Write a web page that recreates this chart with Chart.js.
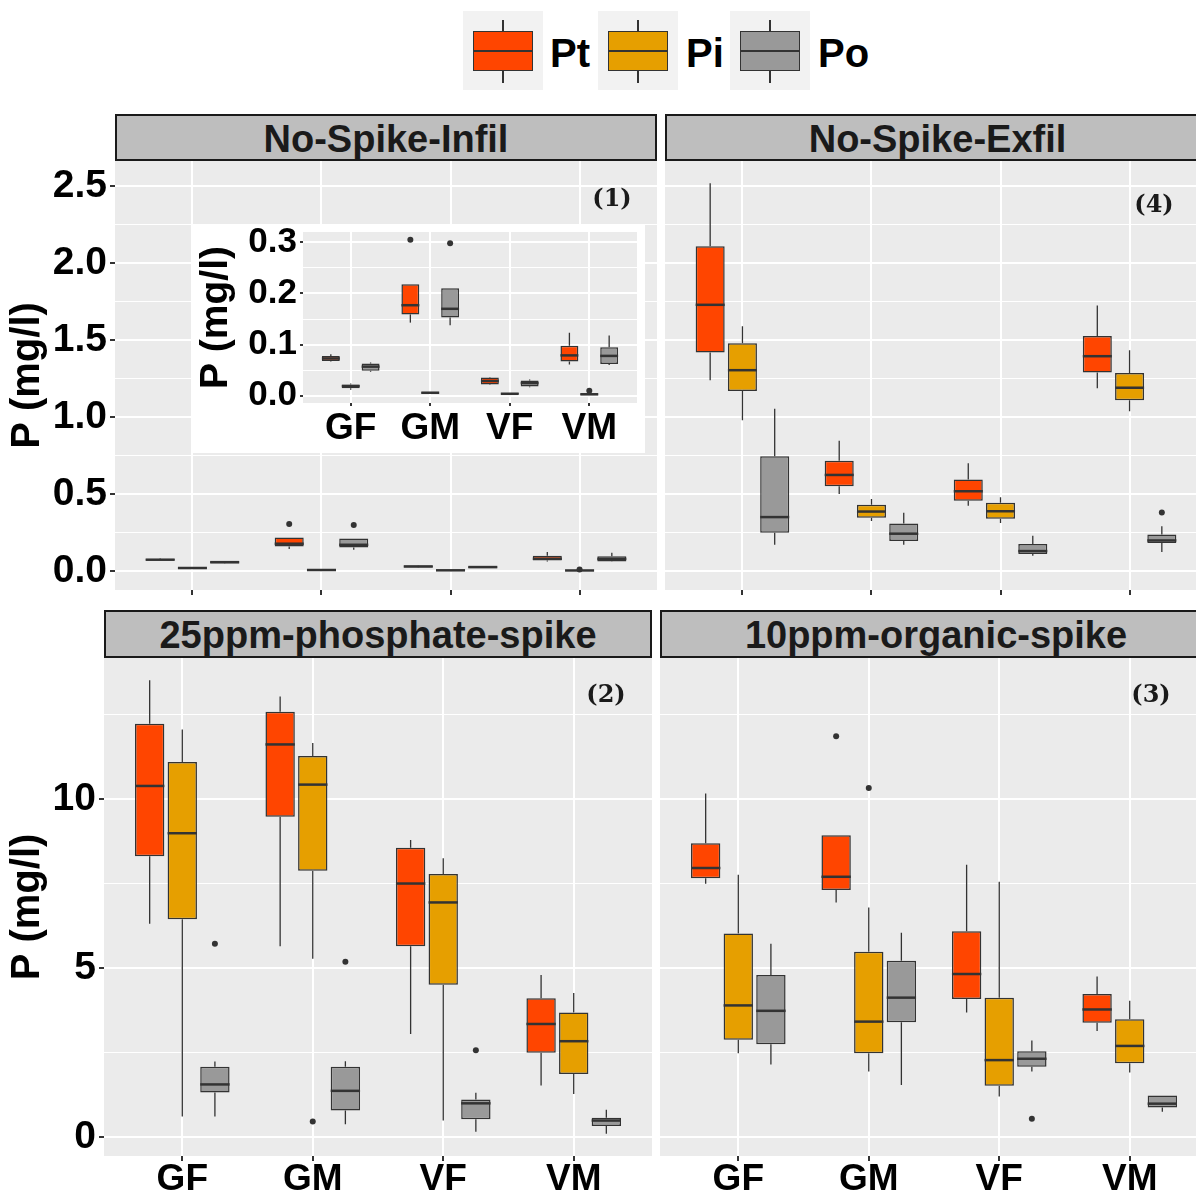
<!DOCTYPE html>
<html>
<head>
<meta charset="utf-8">
<script src="https://cdn.jsdelivr.net/npm/chart.js@4.4.0/dist/chart.umd.min.js"></script>
<style>
  body { margin: 0; background: #fff; overflow: hidden; }
  #fig { position: relative; width: 1196px; height: 1194px; overflow: hidden; font-family: "Liberation Sans", Arial, sans-serif; }
  canvas { position: absolute; }
  .strip { position: absolute; box-sizing: border-box; background: #bebebe; border: 2px solid #1a1a1a; color: #1a1a1a;
           font-weight: bold; font-size: 38px; text-align: center; line-height: 46px; }
  .tag { position: absolute; font-family: "DejaVu Serif", serif; font-weight: bold; font-size: 24px; color: #1a1a1a;
         transform: translate(-50%, -50%); }
  .key { position: absolute; top: 11px; width: 80px; height: 79px; background: #f2f2f2; }
  .key .wh { position: absolute; left: 39px; top: 9px; width: 1.5px; height: 63px; background: #333; }
  .key .bx { position: absolute; left: 10px; top: 20px; width: 60px; height: 40px; box-sizing: border-box; border: 1.5px solid #333; }
  .key .md { position: absolute; left: 10px; top: 39px; width: 60px; height: 2px; background: #333; }
  .lab { position: absolute; top: 31px; font-weight: bold; font-size: 40px; line-height: 44px; color: #000; }
</style>
</head>
<body>
<div id="fig">
  <div class="key" style="left:463px"><div class="wh"></div><div class="bx" style="background:#FF4500"></div><div class="md"></div></div>
  <div class="lab" style="left:550px">Pt</div>
  <div class="key" style="left:598px"><div class="wh"></div><div class="bx" style="background:#E69F00"></div><div class="md"></div></div>
  <div class="lab" style="left:686px">Pi</div>
  <div class="key" style="left:730px"><div class="wh"></div><div class="bx" style="background:#999999"></div><div class="md"></div></div>
  <div class="lab" style="left:818px">Po</div>

  <div class="strip" style="left:115px;top:114px;width:542px;height:47px">No-Spike-Infil</div>
  <div class="strip" style="left:665px;top:114px;width:545px;height:47px">No-Spike-Exfil</div>
  <div class="strip" style="left:104px;top:610px;width:548px;height:48px">25ppm-phosphate-spike</div>
  <div class="strip" style="left:660px;top:610px;width:552px;height:48px">10ppm-organic-spike</div>

  <canvas id="infil" style="left:0;top:161px" width="657" height="449"></canvas>
  <canvas id="exfil" style="left:665px;top:161px" width="542" height="449"></canvas>
  <canvas id="phos" style="left:0;top:658px" width="652" height="536"></canvas>
  <canvas id="org" style="left:660px;top:658px" width="548" height="536"></canvas>
  <canvas id="inset" style="left:192px;top:224px" width="453" height="229"></canvas>

  <div class="tag" style="left:612px;top:197px">(1)</div>
  <div class="tag" style="left:1154px;top:203px">(4)</div>
  <div class="tag" style="left:606px;top:693px">(2)</div>
  <div class="tag" style="left:1151px;top:693px">(3)</div>
</div>
<script>
const CATEGORIES = ["GF", "GM", "VF", "VM"];
const SERIES = ["Pt", "Pi", "Po"];
const COLORS = ["#FF4500", "#E69F00", "#999999"];

// each row: [min, q1, median, q3, max] for GF, GM, VF, VM
const INFIL_PT = [[0.067, 0.068, 0.073, 0.078, 0.081], [0.143, 0.159, 0.177, 0.218, 0.218], [0.021, 0.022, 0.029, 0.036, 0.037], [0.061, 0.067, 0.079, 0.098, 0.123]];
const INFIL_PI = [[0.012, 0.015, 0.019, 0.022, 0.024], [0.004, 0.004, 0.006, 0.008, 0.008], [0.002, 0.003, 0.004, 0.006, 0.006], [0.001, 0.001, 0.003, 0.005, 0.006]];
const INFIL_PO = [[0.047, 0.049, 0.057, 0.063, 0.065], [0.138, 0.153, 0.170, 0.210, 0.210], [0.017, 0.018, 0.025, 0.030, 0.032], [0.060, 0.062, 0.078, 0.095, 0.118]];
const INFIL_OUT = [[0, 1, 0.305], [2, 1, 0.298], [1, 3, 0.010]]; // [series, category, value]

const EXFIL_PT = [[1.24, 1.42, 1.73, 2.11, 2.52], [0.50, 0.55, 0.624, 0.716, 0.846], [0.423, 0.457, 0.518, 0.595, 0.70], [1.187, 1.29, 1.396, 1.527, 1.726]];
const EXFIL_PI = [[0.98, 1.17, 1.305, 1.48, 1.59], [0.324, 0.345, 0.386, 0.431, 0.468], [0.311, 0.339, 0.388, 0.444, 0.479], [1.038, 1.109, 1.191, 1.286, 1.435]];
const EXFIL_PO = [[0.17, 0.248, 0.35, 0.746, 1.055], [0.17, 0.194, 0.242, 0.309, 0.378], [0.099, 0.11, 0.129, 0.175, 0.229], [0.123, 0.181, 0.198, 0.237, 0.291]];
const EXFIL_OUT = [[2, 3, 0.38]];

const PHOS_PT = [[6.31, 8.31, 10.39, 12.23, 13.52], [5.64, 9.48, 11.62, 12.59, 13.04], [3.04, 5.64, 7.50, 8.56, 8.79], [1.52, 2.49, 3.34, 4.10, 4.79]];
const PHOS_PI = [[0.60, 6.44, 8.99, 11.10, 12.06], [5.27, 7.88, 10.43, 11.28, 11.66], [0.48, 4.50, 6.94, 7.78, 8.25], [1.27, 1.86, 2.83, 3.68, 4.26]];
const PHOS_PO = [[0.60, 1.31, 1.55, 2.07, 2.23], [0.37, 0.78, 1.36, 2.07, 2.24], [0.15, 0.52, 0.99, 1.10, 1.30], [0.09, 0.32, 0.48, 0.56, 0.80]];
const PHOS_OUT = [[2, 0, 5.72], [1, 1, 0.45], [2, 1, 5.18], [2, 2, 2.56]];

const ORG_PT = [[7.49, 7.66, 7.96, 8.69, 10.17], [6.94, 7.31, 7.70, 8.93, 8.93], [3.68, 4.08, 4.82, 6.09, 8.06], [3.13, 3.38, 3.77, 4.23, 4.75]];
const ORG_PI = [[2.47, 2.87, 3.89, 6.02, 7.76], [1.93, 2.47, 3.41, 5.48, 6.79], [1.19, 1.51, 2.27, 4.12, 7.55], [1.90, 2.18, 2.69, 3.48, 4.03]];
const ORG_PO = [[2.14, 2.74, 3.73, 4.79, 5.72], [1.53, 3.39, 4.12, 5.21, 6.04], [1.93, 2.07, 2.31, 2.53, 2.85], [0.74, 0.87, 0.98, 1.22, 1.22]];
const ORG_OUT = [[0, 1, 11.86], [1, 1, 10.33], [2, 2, 0.53]];

const TOP_TICKS = [0, 0.5, 1, 1.5, 2, 2.5];
const TOP_LABELS = ["0.0", "0.5", "1.0", "1.5", "2.0", "2.5"];
const TOP_MINOR = [0.25, 0.75, 1.25, 1.75, 2.25];
const INSET_TICKS = [0, 0.1, 0.2, 0.3];
const INSET_LABELS = ["0.0", "0.1", "0.2", "0.3"];
const INSET_MINOR = [0.05, 0.15, 0.25];
const BOTTOM_TICKS = [0, 5, 10];
const BOTTOM_LABELS = ["0", "5", "10"];
const BOTTOM_MINOR = [2.5, 7.5, 12.5];

Chart.defaults.font.family = '"Liberation Sans", Arial, sans-serif';
Chart.defaults.font.weight = "bold";

const boxPlugin = {
  id: "boxes",
  beforeDraw(chart, args, opts) {
    const { ctx, chartArea: a } = chart;
    ctx.save();
    if (opts.whiteBg) {
      ctx.fillStyle = "#fff";
      ctx.fillRect(0, 0, chart.width, chart.height);
    }
    ctx.fillStyle = "#ebebeb";
    ctx.fillRect(a.left, a.top, a.right - a.left, a.bottom - a.top);
    ctx.restore();
  },
  beforeDatasetsDraw(chart) {
    const { ctx } = chart;
    const y = chart.scales.y;
    ctx.save();
    ctx.strokeStyle = "#333";
    ctx.lineWidth = 1.3;
    chart.data.datasets.forEach((ds, d) => {
      if (!ds.stats) return;
      chart.getDatasetMeta(d).data.forEach((bar, i) => {
        const r = ds.stats[i];
        const { x } = bar.getProps(["x"], true);
        ctx.beginPath();
        ctx.moveTo(x, y.getPixelForValue(r[4]));
        ctx.lineTo(x, y.getPixelForValue(r[3]));
        ctx.moveTo(x, y.getPixelForValue(r[1]));
        ctx.lineTo(x, y.getPixelForValue(r[0]));
        ctx.stroke();
      });
    });
    ctx.restore();
  },
  afterDatasetsDraw(chart) {
    const { ctx } = chart;
    const y = chart.scales.y;
    ctx.save();
    ctx.strokeStyle = "#333";
    ctx.lineWidth = 2.5;
    chart.data.datasets.forEach((ds, d) => {
      if (!ds.stats) return;
      chart.getDatasetMeta(d).data.forEach((bar, i) => {
        const { x, width } = bar.getProps(["x", "width"], true);
        const py = y.getPixelForValue(ds.stats[i][2]);
        ctx.beginPath();
        ctx.moveTo(x - width / 2, py);
        ctx.lineTo(x + width / 2, py);
        ctx.stroke();
      });
    });
    ctx.restore();
  },
};

function panel(id, series, outliers, o) {
  const canvas = document.getElementById(id);
  const ctx = canvas.getContext("2d");
  const datasets = series.map((rows, s) => ({
    type: "bar",
    label: SERIES[s],
    data: rows.map((r, i) => ({ x: i + 1, y: [r[1], r[3]] })),
    stats: rows,
    backgroundColor: COLORS[s],
    borderColor: "#333333",
    borderWidth: 1.5,
    borderSkipped: false,
    categoryPercentage: 0.75,
    barPercentage: 0.9,
  }));
  datasets.push({
    type: "scatter",
    label: "outliers",
    data: outliers.map((p) => ({ x: p[1] + 1 + (p[0] - 1) * 0.25, y: p[2] })),
    pointRadius: o.dot,
    backgroundColor: "#333333",
    borderWidth: 0,
  });
  const isMajor = (v) => o.ticks.includes(v);

  return new Chart(ctx, {
    type: "bar",
    data: { datasets },
    plugins: [boxPlugin],
    options: {
      responsive: false,
      devicePixelRatio: 1,
      animation: false,
      layout: { padding: o.pad || 0, autoPadding: false },
      plugins: { legend: { display: false }, tooltip: { enabled: false }, boxes: { whiteBg: !!o.whiteBg } },
      scales: {
        x: {
          type: "linear",
          min: 0.4,
          max: 4.6,
          offset: false,
          afterBuildTicks: (s) => { s.ticks = CATEGORIES.map((c, i) => ({ value: i + 1 })); },
          afterFit: (s) => { s.height = o.xHeight; s.paddingLeft = 0; s.paddingRight = 0; },
          ticks: {
            display: o.xLabels,
            callback: (v) => CATEGORIES[v - 1],
            font: { size: o.xFont, weight: "bold" },
            color: "#000",
            padding: o.xPad,
            maxRotation: 0,
            autoSkip: false,
          },
          grid: { color: "#fff", lineWidth: 2, tickColor: "#333", tickLength: o.tick, offset: false },
          border: { display: false },
        },
        y: {
          min: o.min,
          max: o.max,
          afterBuildTicks: (s) => {
            s.ticks = o.ticks.concat(o.minor).sort((a, b) => a - b).map((v) => ({ value: v }));
          },
          afterFit: (s) => { s.width = o.yWidth; s.paddingTop = 0; s.paddingBottom = 0; },
          ticks: {
            display: o.yLabels,
            callback: (v) => (isMajor(v) ? o.labels[o.ticks.indexOf(v)] : ""),
            font: { size: o.yFont, weight: "bold" },
            color: "#000",
            padding: 3,
            autoSkip: false,
          },
          grid: {
            color: "#fff",
            lineWidth: (c) => (c.tick && isMajor(c.tick.value) ? 2 : 1),
            tickColor: (c) => (c.tick && isMajor(c.tick.value) ? "#333" : "rgba(0,0,0,0)"),
            tickLength: o.tick,
            drawTicks: o.yLabels,
          },
          border: { display: false },
          title: {
            display: o.yLabels,
            text: "P (mg/l)",
            font: { size: o.titleFont, weight: "bold" },
            color: "#000",
            padding: { top: o.titlePad, bottom: 0 },
          },
        },
      },
    },
  });
}

const topRow = { min: -0.124, max: 2.665, ticks: TOP_TICKS, labels: TOP_LABELS, minor: TOP_MINOR, xHeight: 20, xLabels: false,
  xFont: 37, xPad: 0, tick: 5, yFont: 39, titleFont: 40, titlePad: 4, dot: 3 };
const bottomRow = { min: -0.57, max: 14.18, ticks: BOTTOM_TICKS, labels: BOTTOM_LABELS, minor: BOTTOM_MINOR, xHeight: 38, xLabels: true,
  xFont: 37, xPad: -3, tick: 5, yFont: 39, titleFont: 40, titlePad: 4, dot: 3 };

panel("infil", [INFIL_PT, INFIL_PI, INFIL_PO], INFIL_OUT, { ...topRow, yWidth: 115, yLabels: true });
panel("exfil", [EXFIL_PT, EXFIL_PI, EXFIL_PO], EXFIL_OUT, { ...topRow, yWidth: 0, yLabels: false });
panel("phos", [PHOS_PT, PHOS_PI, PHOS_PO], PHOS_OUT, { ...bottomRow, yWidth: 104, yLabels: true });
panel("org", [ORG_PT, ORG_PI, ORG_PO], ORG_OUT, { ...bottomRow, yWidth: 0, yLabels: false });
panel("inset", [INFIL_PT, INFIL_PI, INFIL_PO], INFIL_OUT, {
  min: -0.014, max: 0.32, ticks: INSET_TICKS, labels: INSET_LABELS, minor: INSET_MINOR,
  xHeight: 50, xLabels: true, xFont: 37, xPad: 1, tick: 3, yFont: 35, titleFont: 39, titlePad: 1,
  yWidth: 111, yLabels: true, pad: { top: 8, right: 8, left: 0, bottom: 0 }, whiteBg: true, dot: 3,
});
</script>
</body>
</html>
